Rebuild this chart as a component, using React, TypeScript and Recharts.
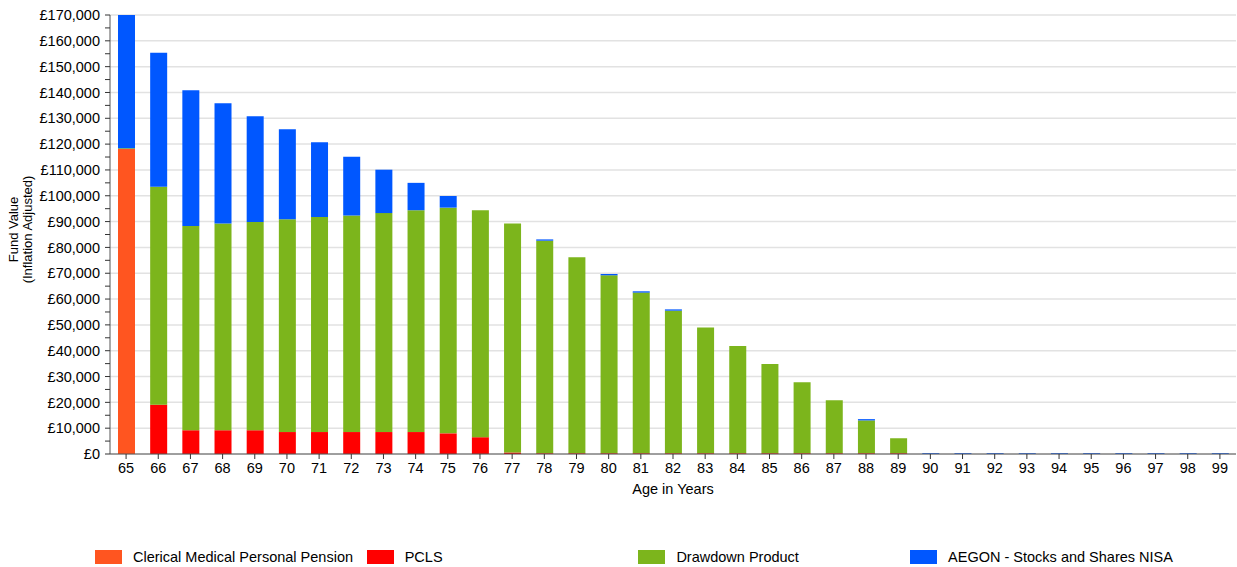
import React from 'react';
import { BarChart, Bar, XAxis, YAxis, CartesianGrid, Legend, Label } from 'recharts';

const ages = [
  '65', '66', '67', '68', '69', '70', '71', '72', '73', '74', '75', '76',
  '77', '78', '79', '80', '81', '82', '83', '84', '85', '86', '87', '88',
  '89', '90', '91', '92', '93', '94', '95', '96', '97', '98', '99',
];

// values (GBP, inflation adjusted)
const clericalPension = [
  118100, 0, 0, 0, 0, 0, 0, 0, 0, 0, 0, 0,
  0, 0, 0, 0, 0, 0, 0, 0, 0, 0, 0, 0,
  0, 0, 0, 0, 0, 0, 0, 0, 0, 0, 0,
];
const pcls = [
  0, 19100, 9200, 9200, 9200, 8500, 8500, 8500, 8500, 8500, 8000, 6500,
  600, 300, 300, 300, 300, 300, 300, 300, 300, 300, 300, 300,
  300, 0, 0, 0, 0, 0, 0, 0, 0, 0, 0,
];
const drawdownProduct = [
  300, 84400, 79100, 80100, 80600, 82400, 83300, 83900, 84800, 85900, 87400, 87900,
  88700, 82300, 75900, 68900, 62200, 55200, 48700, 41500, 34600, 27500, 20500, 12700,
  5800, 0, 0, 0, 0, 0, 0, 0, 0, 0, 0,
];
const aegonNisa = [
  51600, 51900, 52600, 46500, 41000, 34900, 28900, 22700, 16800, 10600, 4500, 0,
  0, 500, 0, 500, 500, 500, 0, 0, 0, 0, 0, 500,
  0, 300, 300, 300, 300, 300, 300, 300, 300, 300, 300,
];

const yTicks = [
  0, 5000, 10000, 15000, 20000, 25000, 30000, 35000, 40000, 45000, 50000, 55000,
  60000, 65000, 70000, 75000, 80000, 85000, 90000, 95000, 100000, 105000, 110000,
  115000, 120000, 125000, 130000, 135000, 140000, 145000, 150000, 155000, 160000,
  165000, 170000,
];
const gridValues = [
  0, 10000, 20000, 30000, 40000, 50000, 60000, 70000, 80000, 90000, 100000,
  110000, 120000, 130000, 140000, 150000, 160000, 170000,
];

const seriesNames = [
  'Clerical Medical Personal Pension',
  'PCLS',
  'Drawdown Product',
  'AEGON - Stocks and Shares NISA',
];
const seriesColors = ['#FF5520', '#FF0000', '#7CB51C', '#0057FF'];

const chartData = ages.map((age, i) => ({
  age,
  clerical: clericalPension[i],
  pcls: pcls[i],
  drawdown: drawdownProduct[i],
  aegon: aegonNisa[i],
}));
const seriesKeys = ['clerical', 'pcls', 'drawdown', 'aegon'];

const FONT = '"Liberation Sans", Arial, sans-serif';

const formatPounds = (v: number) =>
  v % 10000 === 0 ? '£' + v.toLocaleString('en-GB') : '';

function LegendRow() {
  return (
    <div style={{ position: 'relative', width: 1237, height: 18, fontFamily: FONT, fontSize: 14.5, color: '#000' }}>
      {seriesNames.map((name, i) => (
        <div key={name} style={{ position: 'absolute', left: 95 + i * 271.7, top: 0, height: 18, whiteSpace: 'nowrap' }}>
          <span style={{ position: 'absolute', left: 0, top: 2, width: 27, height: 14, background: seriesColors[i] }} />
          <span style={{ position: 'absolute', left: 38, top: 0, lineHeight: '18px' }}>{name}</span>
        </div>
      ))}
    </div>
  );
}

function YLabel(props: any) {
  const vb = props.viewBox || { y: 15, height: 439 };
  const cy = vb.y + vb.height / 2 - 5;
  return (
    <g fontFamily={FONT} fontSize={13} fill="#000">
      <text x={13} y={cy} textAnchor="middle" dominantBaseline="central" transform={`rotate(-90, 13, ${cy})`}>
        Fund Value
      </text>
      <text x={27} y={cy} textAnchor="middle" dominantBaseline="central" transform={`rotate(-90, 27, ${cy})`}>
        (Inflation Adjusted)
      </text>
    </g>
  );
}

export default function App() {
  return (
    <div style={{ position: 'absolute', left: 0, top: 0, width: 1237, height: 567, background: '#fff' }}>
      <BarChart
        width={1237}
        height={567}
        data={chartData}
        margin={{ top: 15, right: 1, bottom: 0, left: 0 }}
        barSize={17}
        style={{ fontFamily: FONT }}
      >
        <CartesianGrid vertical={false} stroke="#e2e2e2" strokeWidth={1.5} horizontalValues={gridValues} />
        <XAxis
          dataKey="age"
          interval={0}
          height={95}
          tickSize={5}
          tickMargin={4}
          axisLine={{ stroke: '#555' }}
          tickLine={{ stroke: '#333' }}
          tick={{ fontSize: 14.5, fill: '#000', fontFamily: FONT }}
        >
          <Label value="Age in Years" position="insideTop" offset={30} style={{ fontSize: 14.5, fill: '#000', fontFamily: FONT }} />
        </XAxis>
        <YAxis
          width={110}
          domain={[0, 170000]}
          ticks={yTicks}
          interval={0}
          tickFormatter={formatPounds}
          tickSize={5}
          tickMargin={5}
          axisLine={{ stroke: '#555' }}
          tickLine={{ stroke: '#333' }}
          tick={{ fontSize: 14.5, fill: '#000', fontFamily: FONT }}
        >
          <Label content={YLabel} />
        </YAxis>
        <Legend
          verticalAlign="bottom"
          wrapperStyle={{ left: 0, top: 548, width: 1237, height: 18 }}
          content={() => <LegendRow />}
        />
        {seriesKeys.map((key, i) => (
          <Bar
            key={key}
            dataKey={key}
            name={seriesNames[i]}
            stackId="fund"
            fill={seriesColors[i]}
            isAnimationActive={false}
          />
        ))}
      </BarChart>
    </div>
  );
}
